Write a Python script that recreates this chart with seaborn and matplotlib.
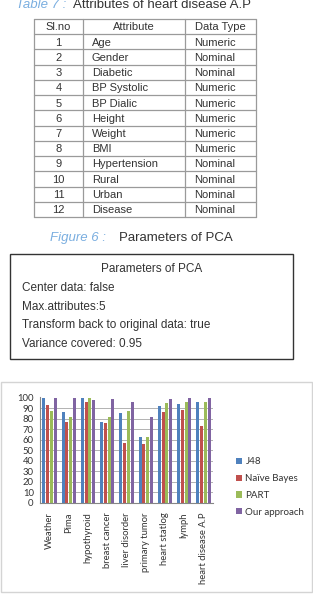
import numpy as np
import pandas as pd
import matplotlib
matplotlib.use('Agg')
import matplotlib.pyplot as plt
import seaborn as sns
from matplotlib.patches import Rectangle

# Tabela de atributos
table_header = ['Sl.no', 'Attribute', 'Data Type']
sl_no = [str(i) for i in range(1, 13)]
attributes = ['Age', 'Gender', 'Diabetic', 'BP Systolic', 'BP Dialic', 'Height',
              'Weight', 'BMI', 'Hypertension', 'Rural', 'Urban', 'Disease']
data_types = ['Numeric', 'Nominal', 'Nominal', 'Numeric', 'Numeric', 'Numeric',
              'Numeric', 'Numeric', 'Nominal', 'Nominal', 'Nominal', 'Nominal']

# Parametros do PCA
pca_title = 'Parameters of PCA'
pca_params = ['Center data: false', 'Max.attributes:5',
              'Transform back to original data: true', 'Variance covered: 0.95']

# Dados do grafico de barras
datasets = ['Weather', 'Pima', 'hypothyroid', 'breast cancer', 'liver disorder',
            'primary tumor', 'heart statlog', 'lymph', 'heart disease A.P']
j48 = [100, 86, 100, 77, 85, 62, 92, 94, 96]
naive_bayes = [93, 77, 96, 76, 57, 56, 86, 88, 73]
part = [87, 81, 100, 81, 87, 62, 95, 96, 96]
our_approach = [100, 100, 98, 99, 96, 81, 99, 100, 100]
methods = ['J48', 'Naïve Bayes', 'PART', 'Our approach']
colors = ['#4F81BD', '#C0504D', '#9BBB59', '#8064A2']
y_ticks = list(range(0, 101, 10))

sns.set_style('white')
plt.rcParams['font.family'] = ['Liberation Sans', 'DejaVu Sans']

W, H = 313, 597
fig = plt.figure(figsize=(W / 100, H / 100), dpi=100)


def fx(px):
    return px / W


def fy(py):
    return 1 - py / H


txt_color = '#333333'
cap_color = '#7aaee0'

# Legenda da tabela
fig.text(fx(16), fy(8), 'Table 7 :', color=cap_color, style='italic', fontsize=9.5, va='baseline')
fig.text(fx(73), fy(8), 'Attributes of heart disease A.P', color=txt_color, fontsize=9.5, va='baseline')

# Tabela desenhada a mao
tab = fig.add_axes([fx(34), fy(217), (256 - 34) / W, (217 - 19) / H])
tab.set_xlim(0, 222)
tab.set_ylim(13, 0)
tab.axis('off')
col_bounds = [0, 49, 151, 222]
n_rows = len(sl_no) + 1
for r in range(n_rows + 1):
    tab.plot([0, 222], [r, r], color='#9a9a9a', lw=0.9, clip_on=False)
for c in col_bounds:
    tab.plot([c, c], [0, n_rows], color='#9a9a9a', lw=0.9, clip_on=False)
for i, h in enumerate(table_header):
    tab.text((col_bounds[i] + col_bounds[i + 1]) / 2, 0.55, h, ha='center', va='center',
             fontsize=8, color=txt_color)
for r in range(len(sl_no)):
    y = r + 1.55
    tab.text(24.5, y, sl_no[r], ha='center', va='center', fontsize=8, color=txt_color)
    tab.text(col_bounds[1] + 9, y, attributes[r], ha='left', va='center', fontsize=8, color=txt_color)
    tab.text(col_bounds[2] + 9, y, data_types[r], ha='left', va='center', fontsize=8, color=txt_color)

# Legenda da figura 6
fig.text(fx(50), fy(241), 'Figure 6 :', color=cap_color, style='italic', fontsize=9.5, va='baseline')
fig.text(fx(119), fy(241), 'Parameters of PCA', color=txt_color, fontsize=9.5, va='baseline')

# Caixa com parametros do PCA
fig.patches.append(Rectangle((fx(10), fy(359)), 283 / W, 105 / H, transform=fig.transFigure,
                             fill=False, edgecolor='#333333', lw=1.0))
fig.text(fx(152), fy(272), pca_title, ha='center', va='baseline', fontsize=8.5, color=txt_color)
for i, line in enumerate(pca_params):
    fig.text(fx(22), fy(291 + i * 18.7), line, ha='left', va='baseline', fontsize=8.5, color=txt_color)

# Moldura do grafico
fig.patches.append(Rectangle((fx(0.5), fy(592)), 311.5 / W, 210 / H, transform=fig.transFigure,
                             fill=False, edgecolor='#d4d4d4', lw=1.0))

# Grafico de barras
df = pd.DataFrame({
    'dataset': datasets * 4,
    'method': np.repeat(methods, len(datasets)),
    'accuracy': j48 + naive_bayes + part + our_approach,
})

ax = fig.add_axes([fx(40), fy(502.7), 173 / W, 105.2 / H])
sns.barplot(data=df, x='dataset', y='accuracy', hue='method', palette=colors,
            width=0.78, gap=0.2, linewidth=0, saturation=1, ax=ax, legend=True)
ax.set_ylim(0, 100)
ax.set_xlim(-0.5, len(datasets) - 0.5)
ax.set_yticks(y_ticks)
ax.set_xlabel('')
ax.set_ylabel('')
ax.grid(axis='y', color='#a6a6a6', lw=0.6)
ax.set_axisbelow(True)
for s in ['top', 'right']:
    ax.spines[s].set_visible(False)
for s in ['left', 'bottom']:
    ax.spines[s].set_color('#868686')
    ax.spines[s].set_linewidth(0.8)
ax.set_xticks(np.arange(-0.5, len(datasets)), minor=True)
ax.tick_params(axis='x', which='major', length=0, pad=7, labelsize=6.8, labelcolor=txt_color,
               labelrotation=90)
ax.tick_params(axis='x', which='minor', length=3, color='#868686', width=0.7)
ax.tick_params(axis='y', length=2.5, color='#868686', width=0.7, pad=2, labelsize=6.8,
               labelcolor=txt_color)
for lbl in ax.get_xticklabels() + ax.get_yticklabels():
    lbl.set_fontfamily(['Lato', 'DejaVu Sans'])

leg = ax.legend(loc='center left', bbox_to_anchor=(fx(227), fy(487)),
                bbox_transform=fig.transFigure, frameon=False, handlelength=0.6,
                handleheight=0.6, handletextpad=0.4, labelspacing=0.8,
                prop={'family': ['Lato', 'DejaVu Sans'], 'size': 7})
for t in leg.get_texts():
    t.set_color('#333333')

fig.savefig('out.png', dpi=100)
